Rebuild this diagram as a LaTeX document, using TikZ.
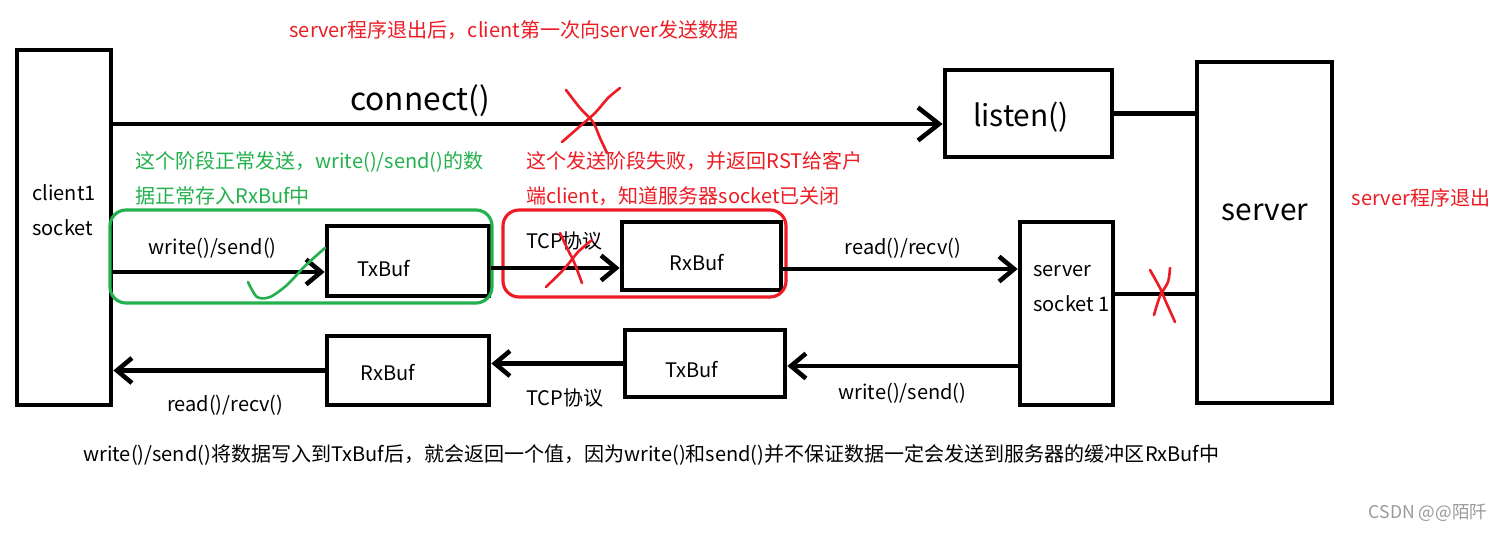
\documentclass[tikz,border=0pt]{standalone}
\usepackage{fontspec}
\setmainfont{Noto Sans CJK SC}
\usepackage{xcolor}
\usepackage{tikz}
\usetikzlibrary{arrows.meta}
\definecolor{penred}{RGB}{237,28,36}
\definecolor{pengreen}{RGB}{34,177,76}
\tikzset{
  box/.style={draw,line width=2.7pt,inner sep=0pt},
  wire/.style={line width=2.6pt},
  arr/.style={wire,-{Straight Barb[length=0.3cm,width=0.5cm]}},
  lbl/.style={font=\fontsize{11.4}{20}\selectfont,inner sep=0pt},
  big/.style={font=\fontsize{17}{20}\selectfont,inner sep=0pt},
  scribble/.style={penred,line width=1.5pt,line cap=round},
}
\begin{document}
\begin{tikzpicture}[x=0.02cm,y=-0.02cm]
  \useasboundingbox (0,0) rectangle (1507,533);
  \node[lbl,text=penred] (title) at (514,30) {server程序退出后，client第一次向server发送数据};

  \node[box,minimum width=1.88cm,minimum height=7.1cm] (client) at (64,227.5) {};
  \node[lbl,align=left,anchor=west] (clientname) at (32,210) {client1\\socket};
  \node[box,minimum width=3.34cm,minimum height=1.74cm] (listen) at (1028.5,113.5) {};
  \node[big] (listenname) at (1021,117) {listen()};
  \node[box,minimum width=2.7cm,minimum height=6.82cm] (server) at (1264.5,232.5) {};
  \node[big] (servername) at (1265,212) {server};
  \node[lbl,text=penred] (exitnote) at (1421,198) {server程序退出};

  \node[box,minimum width=3.24cm,minimum height=1.4cm] (txbufA) at (408,261) {};
  \node[lbl] (txbufAname) at (384,269) {TxBuf};
  \node[box,minimum width=3.18cm,minimum height=1.36cm] (rxbufA) at (701.5,256) {};
  \node[lbl] (rxbufAname) at (697,263) {RxBuf};
  \node[box,minimum width=1.86cm,minimum height=3.66cm] (sock) at (1066.5,313.5) {};
  \node[lbl,align=left,anchor=west] (sockname) at (1033,288.5) {server\\socket 1};
  \node[box,minimum width=3.2cm,minimum height=1.34cm] (txbufB) at (705,363.5) {};
  \node[lbl] (txbufBname) at (692,370) {TxBuf};
  \node[box,minimum width=3.24cm,minimum height=1.38cm] (rxbufB) at (408,370.5) {};
  \node[lbl] (rxbufBname) at (388,373) {RxBuf};

  \node[lbl,text=pengreen,align=left,anchor=west] (okNote) at (135,178.5) {这个阶段正常发送，write()/send()的数\\据正常存入RxBuf中};
  \node[lbl,text=penred,align=left,anchor=west] (failNote) at (526,178.5) {这个发送阶段失败，并返回RST给客户\\端client，知道服务器socket已关闭};

  \draw[pengreen,line width=1.8pt,rounded corners=0.32cm] (110,210) rectangle (492,303);
  \draw[penred,line width=1.8pt,rounded corners=0.32cm] (503,210) rectangle (786,297);

  \coordinate (c1) at ([yshift=-0.21cm]listen.west);
  \draw[wire,-{Straight Barb[length=0.42cm,width=0.66cm]}] (client.east |- c1) -- node[big,pos=0.37,above=0.1cm,font=\fontsize{18}{20}\selectfont] {connect()} (c1);
  \draw[wire] (listen.east) -- (listen.east -| server.west);

  \coordinate (t1) at ([yshift=-0.22cm]txbufA.west);
  \draw[arr] (client.east |- t1) -- node[lbl,pos=0.47,above=0.22cm] {write()/send()} (t1);
  \coordinate (r1) at ([yshift=-0.24cm]rxbufA.west);
  \draw[arr] (txbufA.east |- r1) -- node[lbl,pos=0.57,above=0.3cm] {TCP协议} (r1);
  \coordinate (s1) at ([yshift=0.89cm]sock.west);
  \draw[arr] (rxbufA.east |- s1) -- node[lbl,pos=0.51,above=0.16cm] {read()/recv()} (s1);
  \coordinate (s2) at ([yshift=0.39cm]sock.east);
  \draw[wire] (s2) -- (s2 -| server.west);

  \coordinate (s3) at ([yshift=-1.05cm]sock.west);
  \draw[arr] (s3) -- node[lbl,pos=0.5,below=0.3cm] {write()/send()} (s3 -| txbufB.east);
  \draw[arr] (txbufB.west) -- node[lbl,pos=0.44,below=0.45cm] {TCP协议} (txbufB.west -| rxbufB.east);
  \draw[arr] (rxbufB.west) -- node[lbl,pos=0.47,below=0.45cm] {read()/recv()} (rxbufB.west -| client.east);

  \draw[scribble] plot[smooth] coordinates {(566,90) (580,108) (593,122) (600,138) (607,153)};
  \draw[scribble] plot[smooth] coordinates {(620,88) (608,98) (595,113) (578,128) (562,142)};
  \draw[scribble] plot[smooth] coordinates {(560,233) (568,250) (574,262) (582,283)};
  \draw[scribble] plot[smooth] coordinates {(592,240) (578,252) (565,268) (546,287)};
  \draw[scribble] plot[smooth] coordinates {(1150,270) (1160,288) (1166,302) (1175,322)};
  \draw[scribble] plot[smooth] coordinates {(1170,268) (1168,282) (1160,296) (1154,315)};
  \draw[pengreen,line width=1.5pt,line cap=round] plot[smooth] coordinates {(248,282) (257,297) (270,297) (287,285) (305,266) (325,248)};

  \node[lbl,anchor=west] (bottomNote) at (83,455) {write()/send()将数据写入到TxBuf后，就会返回一个值，因为write()和send()并不保证数据一定会发送到服务器的缓冲区RxBuf中};
  \node[lbl,text=black!40,font=\fontsize{10}{12}\selectfont] (mark) at (1428,513) {CSDN @@陌阡};
\end{tikzpicture}
\end{document}
